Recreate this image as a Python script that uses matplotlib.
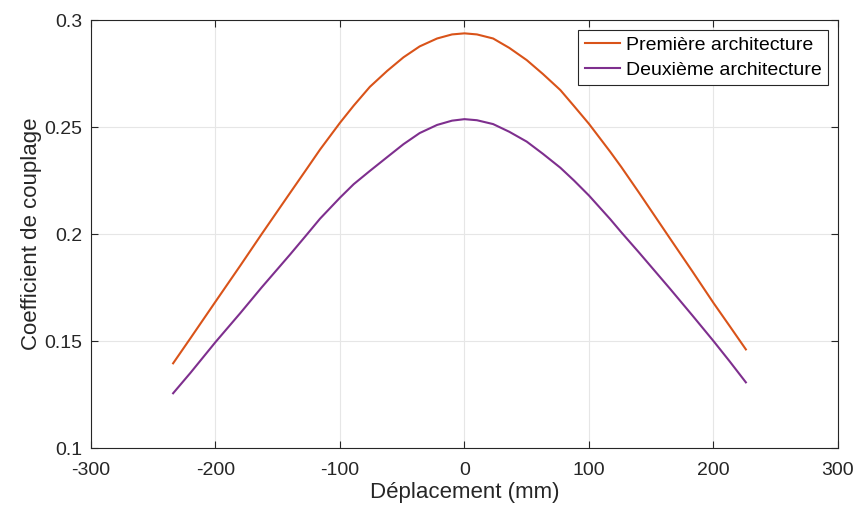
import matplotlib.pyplot as plt

### Data ###
deplacement = [-234, -220, -200, -180, -163, -140, -127, -116, -100, -89, -76, -62, -49, -36,
               -22, -10, 0, 10, 23, 36, 50, 63, 77, 88, 100, 117, 126, 140, 165, 183, 200, 213, 226]
premiere = [0.1396, 0.1514, 0.1684, 0.1853, 0.1999, 0.2193, 0.2302, 0.2395, 0.2520, 0.2600,
            0.2688, 0.2763, 0.2826, 0.2877, 0.2914, 0.2933, 0.2938, 0.2933, 0.2914, 0.2870,
            0.2813, 0.2748, 0.2673, 0.2598, 0.2515, 0.2385, 0.2313, 0.2195, 0.1980, 0.1826,
            0.1678, 0.1570, 0.1461]
deuxieme = [0.1256, 0.1352, 0.1495, 0.1631, 0.1750, 0.1905, 0.1995, 0.2072, 0.2170, 0.2233,
            0.2295, 0.2360, 0.2420, 0.2472, 0.2510, 0.2530, 0.2537, 0.2532, 0.2514, 0.2478,
            0.2432, 0.2375, 0.2310, 0.2250, 0.2180, 0.2070, 0.2008, 0.1915, 0.1745, 0.1620,
            0.1500, 0.1405, 0.1307]

xticks = [-300, -200, -100, 0, 100, 200, 300]
yticks = [0.1, 0.15, 0.2, 0.25, 0.3]
ytick_labels = ['0.1', '0.15', '0.2', '0.25', '0.3']

### Plotting ###
plt.rcParams['font.family'] = ['Liberation Sans', 'DejaVu Sans']
axcol = '#262626'

fig = plt.figure(figsize=(8.58, 5.15), dpi=100)
ax = fig.add_axes([0.106, 0.130, 0.8707, 0.831])

ax.plot(deplacement, premiere, color='#D95319', lw=1.5, label='Première architecture')
ax.plot(deplacement, deuxieme, color='#7E2F8E', lw=1.5, label='Deuxième architecture')

ax.set_xlim(-300, 300)
ax.set_ylim(0.1, 0.3)
ax.set_xticks(xticks)
ax.set_yticks(yticks)
ax.set_xticklabels([str(t) for t in xticks])
ax.set_yticklabels(ytick_labels)
ax.tick_params(direction='in', top=True, right=True, length=5, width=0.8,
               color=axcol, labelcolor=axcol, labelsize=14)
ax.tick_params(axis='x', pad=10)
ax.tick_params(axis='y', pad=6)
for s in ax.spines.values():
    s.set_color(axcol)
    s.set_linewidth(0.8)
ax.grid(True, color='#e6e6e6', lw=0.8)
ax.set_axisbelow(True)

ax.set_xlabel('Déplacement (mm)', fontsize=16, color=axcol, labelpad=2)
ax.set_ylabel('Coefficient de couplage', fontsize=16, color=axcol, labelpad=2)

leg = ax.legend(loc='upper right', fontsize=14, fancybox=False, framealpha=1,
                edgecolor=axcol, handlelength=1.8, borderpad=0.35, labelspacing=0.35,
                handletextpad=0.3, borderaxespad=0.5)
leg.get_frame().set_linewidth(0.8)

plt.savefig('out.png', dpi=100)
